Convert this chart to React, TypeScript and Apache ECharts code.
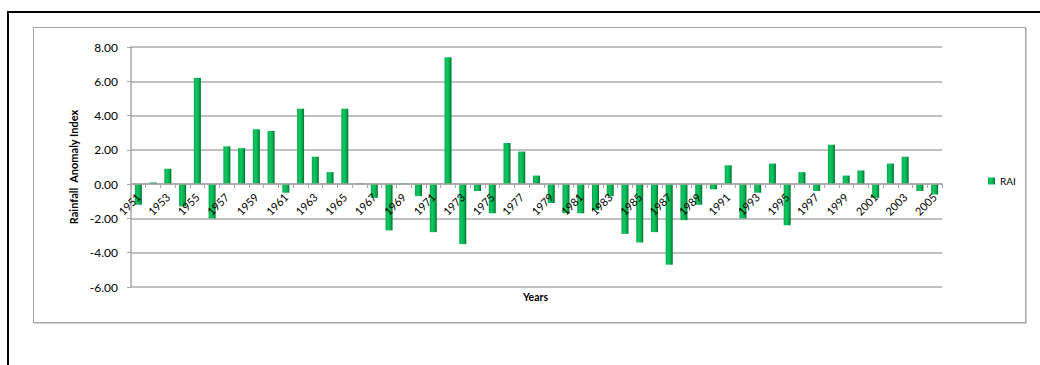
import React, { useEffect, useRef } from "react";
import * as echarts from "echarts";

const years: string[] = [
  "1951","1952","1953","1954","1955","1956","1957","1958","1959","1960",
  "1961","1962","1963","1964","1965","1966","1967","1968","1969","1970",
  "1971","1972","1973","1974","1975","1976","1977","1978","1979","1980",
  "1981","1982","1983","1984","1985","1986","1987","1988","1989","1990",
  "1991","1992","1993","1994","1995","1996","1997","1998","1999","2000",
  "2001","2002","2003","2004","2005",
];

const rai: number[] = [
  -1.2, 0.1, 0.9, -1.3, 6.2, -2.0, 2.2, 2.1, 3.2, 3.1,
  -0.5, 4.4, 1.6, 0.7, 4.4, 0.05, -0.8, -2.7, 0.05, -0.7,
  -2.8, 7.4, -3.5, -0.4, -1.7, 2.4, 1.9, 0.5, -1.1, -1.7,
  -1.7, -1.5, -0.7, -2.9, -3.4, -2.8, -4.7, -2.1, -1.2, -0.3,
  1.1, -2.0, -0.5, 1.2, -2.4, 0.7, -0.4, 2.3, 0.5, 0.8,
  -0.8, 1.2, 1.6, -0.4, -0.6,
];

const yMin = -6;
const yMax = 8;
const yStep = 2;

const gridTop = 47;
const gridBottomY = 287;

export default function App() {
  const ref = useRef<HTMLDivElement>(null);

  useEffect(() => {
    if (!ref.current) return;
    const chart = echarts.init(ref.current, undefined, { renderer: "svg" });
    const font = "Lato, 'Open Sans', sans-serif";
    const barColor = new echarts.graphic.LinearGradient(0, 0, 1, 0, [
      { offset: 0, color: "#05a84a" },
      { offset: 0.35, color: "#12c763" },
      { offset: 0.7, color: "#00b050" },
      { offset: 1, color: "#006b2b" },
    ]);
    // place the category axis on the zero line of the value axis
    const zeroOffset = -((gridBottomY - gridTop) * (0 - yMin)) / (yMax - yMin);
    chart.setOption({
      animation: false,
      backgroundColor: "transparent",
      grid: { left: 131, top: gridTop, right: 98, bottom: 365 - gridBottomY, containLabel: false },
      legend: {
        data: ["RAI"],
        left: 983,
        top: 171,
        icon: "rect",
        itemWidth: 7,
        itemHeight: 7,
        itemGap: 4,
        textStyle: { fontFamily: font, fontSize: 10, color: "#000" },
      },
      xAxis: {
        type: "category",
        data: years,
        boundaryGap: true,
        position: "bottom",
        offset: zeroOffset,
        z: 10,
        axisLine: { onZero: false, lineStyle: { color: "#a6a6a6", width: 1.5 } },
        axisTick: { show: true, interval: 0, length: 4, lineStyle: { color: "#a6a6a6" } },
        axisLabel: {
          interval: 1,
          rotate: 45,
          fontFamily: font,
          fontSize: 11,
          color: "#000",
          margin: 11,
        },
        splitLine: { show: false },
      },
      yAxis: {
        type: "value",
        min: yMin,
        max: yMax,
        interval: yStep,
        name: "Rainfall  Anomaly Index",
        nameLocation: "middle",
        nameGap: 52,
        nameTextStyle: { fontFamily: font, fontSize: 11, fontWeight: "bold", color: "#000" },
        axisLine: { show: true, lineStyle: { color: "#a6a6a6", width: 1.5 } },
        axisTick: { show: true, length: 4, lineStyle: { color: "#a6a6a6" } },
        axisLabel: {
          fontFamily: font,
          fontSize: 12,
          color: "#000",
          margin: 13,
          formatter: (v: number) => v.toFixed(2),
        },
        splitLine: { show: true, lineStyle: { color: "#ababab", width: 1.5 } },
      },
      graphic: [
        {
          type: "text",
          left: 523,
          top: 291,
          style: { text: "Years", font: `bold 10.5px ${font}`, fill: "#000" },
        },
      ],
      series: [
        {
          name: "RAI",
          type: "bar",
          data: rai,
          barWidth: 7,
          z: 2,
          itemStyle: { color: barColor },
        },
      ],
      color: ["#00b050"],
    });
    return () => chart.dispose();
  }, []);

  return (
    <div
      style={{
        position: "fixed",
        left: 0,
        top: 0,
        width: 1040,
        height: 365,
        overflow: "hidden",
        background: "#fff",
      }}
    >
      <div
        style={{
          position: "absolute",
          left: 7,
          top: 11,
          width: 1200,
          height: 500,
          border: "2px solid #000",
          boxSizing: "border-box",
        }}
      />
      <div
        style={{
          position: "absolute",
          left: 33,
          top: 27,
          width: 993,
          height: 296,
          border: "1px solid #a6a6a6",
          boxSizing: "border-box",
          boxShadow: "1px 1px 0 #d0d0d0",
        }}
      />
      <div
        ref={ref}
        style={{ position: "absolute", left: 0, top: 0, width: 1040, height: 365 }}
      />
    </div>
  );
}
